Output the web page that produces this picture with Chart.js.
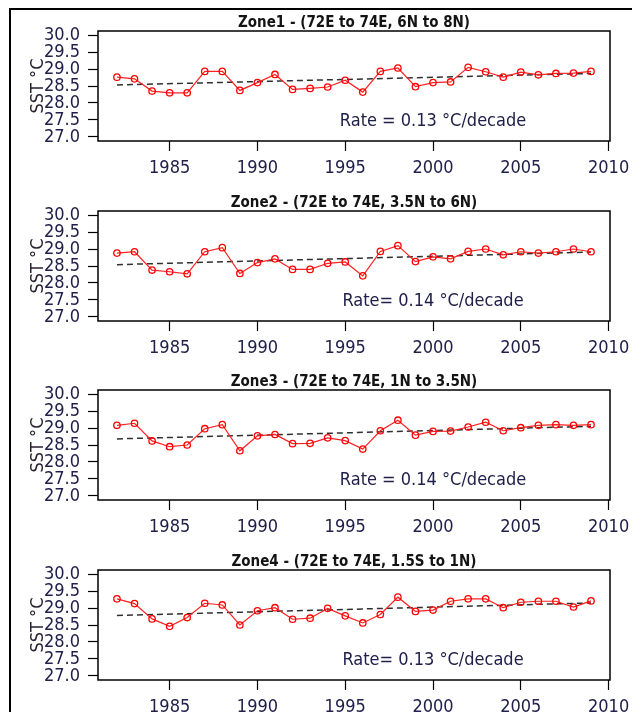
<!DOCTYPE html>
<html>
<head>
<meta charset="utf-8">
<script src="https://cdn.jsdelivr.net/npm/chart.js@4.4.0/dist/chart.umd.min.js"></script>
<style>
  html, body { margin: 0; padding: 0; background: #fff; overflow: hidden; width: 632px; height: 712px; }
  #frame { position: absolute; left: 9px; top: 8px; width: 640px; height: 720px; border-left: 2px solid #000; border-top: 2px solid #000; }
  canvas { position: absolute; left: 0; }
</style>
</head>
<body>
<div id="frame"></div>
<canvas id="zone1" width="632" height="180" style="top:0px"></canvas>
<canvas id="zone2" width="632" height="180" style="top:180px"></canvas>
<canvas id="zone3" width="632" height="180" style="top:359px"></canvas>
<canvas id="zone4" width="632" height="180" style="top:539px"></canvas>
<script>
// annual mean SST per zone
const years = [1982, 1983, 1984, 1985, 1986, 1987, 1988, 1989, 1990, 1991, 1992, 1993, 1994, 1995,
               1996, 1997, 1998, 1999, 2000, 2001, 2002, 2003, 2004, 2005, 2006, 2007, 2008, 2009];

const zone1Sst = [28.76, 28.71, 28.35, 28.30, 28.30, 28.93, 28.93, 28.37, 28.60, 28.84, 28.40, 28.43, 28.47, 28.67,
                  28.32, 28.93, 29.03, 28.48, 28.60, 28.62, 29.05, 28.92, 28.76, 28.91, 28.83, 28.87, 28.88, 28.93];
const zone2Sst = [28.88, 28.92, 28.38, 28.33, 28.27, 28.92, 29.04, 28.28, 28.60, 28.71, 28.40, 28.40, 28.58, 28.62,
                  28.21, 28.93, 29.10, 28.63, 28.77, 28.71, 28.93, 29.00, 28.83, 28.92, 28.88, 28.92, 29.00, 28.92];
const zone3Sst = [29.08, 29.14, 28.62, 28.45, 28.50, 28.98, 29.10, 28.33, 28.77, 28.81, 28.54, 28.55, 28.71, 28.63,
                  28.38, 28.92, 29.23, 28.79, 28.90, 28.91, 29.03, 29.17, 28.92, 29.01, 29.08, 29.10, 29.08, 29.10];
const zone4Sst = [29.27, 29.13, 28.68, 28.46, 28.72, 29.14, 29.09, 28.50, 28.92, 29.01, 28.67, 28.70, 28.99, 28.77,
                  28.56, 28.81, 29.32, 28.90, 28.94, 29.20, 29.27, 29.27, 29.01, 29.17, 29.20, 29.20, 29.03, 29.21];

// linear trend at first and last year
const zone1Trend = [28.53, 28.87];
const zone2Trend = [28.54, 28.91];
const zone3Trend = [28.68, 29.05];
const zone4Trend = [28.78, 29.15];

const zoneTitles = [
  'Zone1 - (72E to 74E, 6N to 8N)',
  'Zone2 - (72E to 74E, 3.5N to 6N)',
  'Zone3 - (72E to 74E, 1N to 3.5N)',
  'Zone4 - (72E to 74E, 1.5S to 1N)'
];
const rateLabels = [
  'Rate = 0.13 °C/decade',
  'Rate= 0.14 °C/decade',
  'Rate = 0.14 °C/decade',
  'Rate= 0.13 °C/decade'
];

const xTicks = [1985, 1990, 1995, 2000, 2005, 2010];
const yTicks = [27.0, 27.5, 28.0, 28.5, 29.0, 29.5, 30.0];

const FONT = "'Liberation Sans Narrow', 'Arial Narrow', 'DejaVu Sans Condensed', Arial, sans-serif";
const TICK_COLOR = '#20204a';

// box round the plot area + the rate annotation
const boxPlugin = {
  id: 'rBox',
  afterDatasetsDraw(chart, args, opts) {
    const { ctx, chartArea: a, scales } = chart;
    ctx.save();
    ctx.strokeStyle = '#000';
    ctx.lineWidth = 1.5;
    ctx.strokeRect(a.left, a.top, a.right - a.left, a.bottom - a.top);
    ctx.fillStyle = TICK_COLOR;
    ctx.font = '18px ' + FONT;
    ctx.textAlign = 'center';
    ctx.textBaseline = 'middle';
    ctx.fillText(opts.text, scales.x.getPixelForValue(2000), scales.y.getPixelForValue(27.45));
    ctx.restore();
  }
};

function makePanel(id, title, sst, trend, rate) {
  new Chart(document.getElementById(id), {
    type: 'line',
    data: {
      datasets: [
        {
          data: years.map((yr, i) => ({ x: yr, y: sst[i] })),
          borderColor: '#ff2020',
          borderWidth: 1.2,
          pointRadius: 3.2,
          pointBorderWidth: 1.3,
          pointBorderColor: '#ff0000',
          pointBackgroundColor: 'rgba(0,0,0,0)',
          tension: 0
        },
        {
          data: [{ x: years[0], y: trend[0] }, { x: years[years.length - 1], y: trend[1] }],
          borderColor: '#303030',
          borderWidth: 1.5,
          borderDash: [6, 4],
          pointRadius: 0
        }
      ]
    },
    options: {
      responsive: false,
      animation: false,
      layout: { padding: { left: 0, right: 22, top: 0, bottom: 0 } },
      plugins: {
        legend: { display: false },
        tooltip: { enabled: false },
        title: {
          display: true,
          text: title,
          fullSize: false,
          color: '#141414',
          font: { family: FONT, size: 15, weight: 'bold', lineHeight: 1 },
          padding: { top: 16, bottom: 0 }
        },
        rBox: { text: rate }
      },
      scales: {
        x: {
          type: 'linear',
          min: 1980.92,
          max: 2010.08,
          afterBuildTicks: s => { s.ticks = xTicks.map(v => ({ value: v })); },
          afterFit: s => { s.height = 39; s.paddingLeft = 0; s.paddingRight = 0; },
          border: { display: false },
          grid: { drawOnChartArea: false, tickLength: 10, tickColor: '#000', tickWidth: 1.2 },
          ticks: {
            autoSkip: false, maxRotation: 0, padding: 8, color: TICK_COLOR,
            font: { family: FONT, size: 18, lineHeight: 1 },
            callback: v => String(v)
          }
        },
        y: {
          min: 26.88,
          max: 30.12,
          afterBuildTicks: s => { s.ticks = yTicks.map(v => ({ value: v })); },
          afterFit: s => { s.width = 98; },
          border: { display: false },
          grid: { drawOnChartArea: false, tickLength: 10, tickColor: '#000', tickWidth: 1.2 },
          ticks: {
            autoSkip: false, padding: 8, color: TICK_COLOR,
            font: { family: FONT, size: 18, lineHeight: 1 },
            callback: v => v.toFixed(1)
          },
          title: {
            display: true,
            text: 'SST °C',
            color: '#2a2030',
            font: { family: FONT, size: 18, lineHeight: 1 },
            padding: { top: 29, bottom: 0 }
          }
        }
      }
    },
    plugins: [boxPlugin]
  });
}

makePanel('zone1', zoneTitles[0], zone1Sst, zone1Trend, rateLabels[0]);
makePanel('zone2', zoneTitles[1], zone2Sst, zone2Trend, rateLabels[1]);
makePanel('zone3', zoneTitles[2], zone3Sst, zone3Trend, rateLabels[2]);
makePanel('zone4', zoneTitles[3], zone4Sst, zone4Trend, rateLabels[3]);
</script>
</body>
</html>
